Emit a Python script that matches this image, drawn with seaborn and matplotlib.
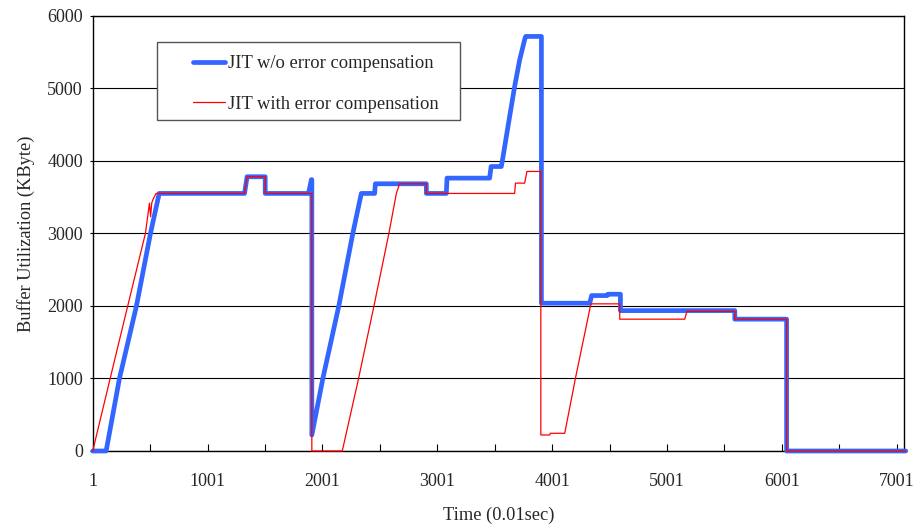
import matplotlib
matplotlib.use("Agg")
import matplotlib.pyplot as plt
import matplotlib.patches as mpatches
import seaborn as sns
import pandas as pd

# ---- data ----
blue_x = [1, 118, 234, 382, 504, 580, 1323, 1345, 1503, 1503, 1880, 1905, 1909, 1909,
          2005, 2144, 2266, 2340, 2456, 2462, 2906, 2906, 3080, 3086, 3457, 3470, 3559,
          3579, 3617, 3675, 3719, 3762, 3771, 3908, 3908, 4329, 4345, 4480, 4486, 4596,
          4596, 5592, 5592, 6043, 6043, 7080]
blue_y = [0, 0, 1000, 2000, 3000, 3550, 3550, 3780, 3780, 3550, 3550, 3740, 3740, 220,
          1000, 2000, 3000, 3550, 3550, 3683, 3683, 3550, 3550, 3761, 3761, 3921, 3921,
          4106, 4473, 5025, 5393, 5669, 5714, 5714, 2037, 2037, 2142, 2142, 2161, 2161,
          1935, 1935, 1817, 1817, 0, 0]

red_x = [1, 153, 306, 460, 495, 505, 515, 530, 553, 1323, 1345, 1503, 1503, 1909, 1909,
         2174, 2316, 2450, 2580, 2645, 2673, 2906, 2906, 3675, 3682, 3762, 3782, 3903,
         3903, 3980, 3985, 4111, 4204, 4335, 4343, 4590, 4590, 5156, 5175, 5592, 5592,
         6043, 6043, 7080]
red_y = [0, 1000, 2000, 3000, 3417, 3230, 3420, 3480, 3550, 3550, 3780, 3780, 3550, 3550, 0,
         0, 1000, 2000, 3000, 3550, 3683, 3683, 3550, 3550, 3692, 3692, 3853, 3853,
         221, 221, 244, 244, 1000, 2000, 2028, 2028, 1817, 1817, 1925, 1925, 1817,
         1817, 0, 0]

series_labels = ["JIT w/o error compensation", "JIT with error compensation"]
x_tick_values = [1, 1001, 2001, 3001, 4001, 5001, 6001, 7001]
x_minor_values = [501, 1501, 2501, 3501, 4501, 5501, 6501]
y_tick_values = [0, 1000, 2000, 3000, 4000, 5000, 6000]

sns.set_style("white")
plt.rcParams["font.family"] = ["Liberation Serif", "DejaVu Serif"]
plt.rcParams["font.size"] = 13

fig = plt.figure(figsize=(9.17, 5.26), dpi=100)
ax = fig.add_axes([0.1011, 0.1426, 0.8847, 0.8276])

df_b = pd.DataFrame({"x": blue_x, "y": blue_y})
df_r = pd.DataFrame({"x": red_x, "y": red_y})

sns.lineplot(data=df_b, x="x", y="y", ax=ax, sort=False, estimator=None,
             color="#3366ff", linewidth=3.4, label=series_labels[0], zorder=5,
             clip_on=False)
sns.lineplot(data=df_r, x="x", y="y", ax=ax, sort=False, estimator=None,
             color="#ff0000", linewidth=0.9, label=series_labels[1], zorder=6,
             clip_on=False)

ax.set_xlim(1, 7065)
ax.set_ylim(0, 6000)
ax.set_xticks(x_tick_values)
ax.set_xticklabels([str(v) for v in x_tick_values])
ax.set_xticks(x_minor_values, minor=True)
ax.set_yticks(y_tick_values)
ax.set_yticklabels([str(v) for v in y_tick_values])

ax.tick_params(axis="x", which="both", direction="in", length=5, width=0.8,
               color="black", pad=16, labelsize=13, bottom=True)
ax.tick_params(axis="y", which="both", direction="out", length=2, width=0.8,
               color="black", pad=5, labelsize=13, left=True)

ax.yaxis.grid(True, color="black", linewidth=0.8)
ax.xaxis.grid(False)
ax.set_axisbelow(True)

for s in ax.spines.values():
    s.set_visible(True)
    s.set_color("black")
    s.set_linewidth(1.0)

ax.set_xlabel("Time (0.01sec)", fontsize=13.2, labelpad=12)
ax.set_ylabel("Buffer Utilization (KByte)", fontsize=13.2, labelpad=9)

# legend frame drawn as a box, legend entries without frame
rect = mpatches.Rectangle((0.1709, 0.7719), 0.3308, 0.1477, transform=fig.transFigure,
                          facecolor="white", edgecolor="#555555", linewidth=1.0,
                          zorder=3)
ax.add_patch(rect)
leg = ax.legend(loc="upper left", bbox_to_anchor=(0.2101, 0.8945),
                bbox_transform=fig.transFigure, frameon=False, borderpad=0,
                borderaxespad=0, handlelength=1.73, handletextpad=0.16,
                labelspacing=1.27, fontsize=13.3)
leg.set_zorder(7)

fig.savefig("out.png", dpi=100)
